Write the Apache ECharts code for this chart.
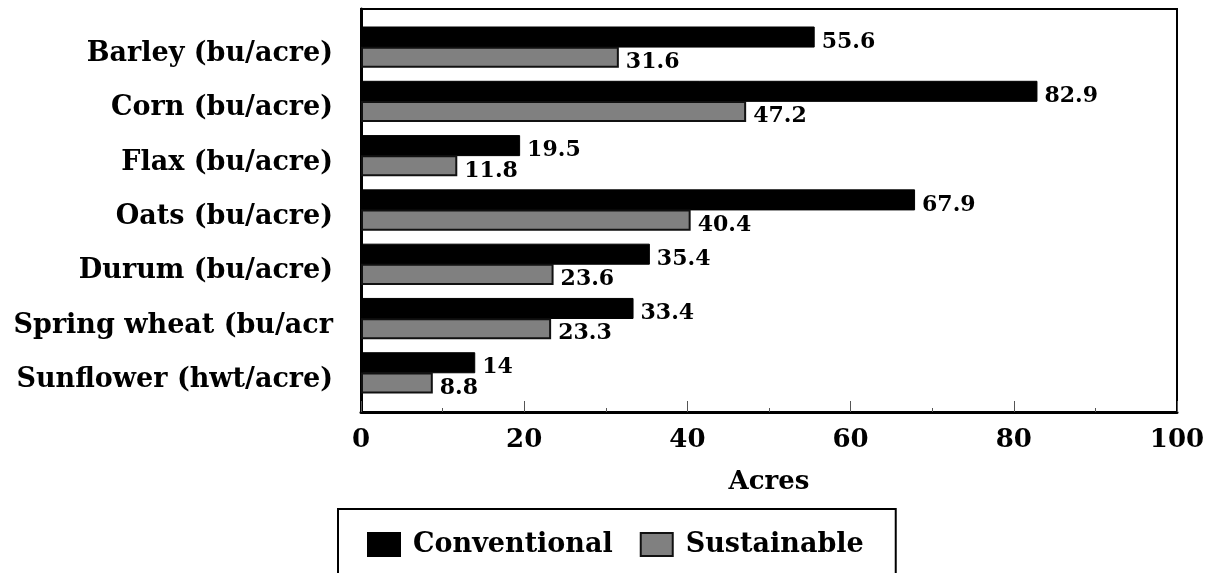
<!DOCTYPE html>
<html>
<head>
<meta charset="utf-8">
<script src="https://cdn.jsdelivr.net/npm/echarts@6/dist/echarts.min.js"></script>
<style>
  html, body { margin: 0; padding: 0; background: #fff; }
  #chart { width: 1213px; height: 573px; }
</style>
</head>
<body>
<div id="chart"></div>
<script>
// Crop yields, conventional vs sustainable farming
const categories = [
  'Barley (bu/acre)',
  'Corn (bu/acre)',
  'Flax (bu/acre)',
  'Oats (bu/acre)',
  'Durum (bu/acre)',
  'Spring wheat (bu/acr',
  'Sunflower (hwt/acre)'
];
const conventional = [55.6, 82.9, 19.5, 67.9, 35.4, 33.4, 14];
const sustainable = [31.6, 47.2, 11.8, 40.4, 23.6, 23.3, 8.8];
const axisMin = 0;
const axisMax = 100;
const axisStep = 20;

const FONT = 'DejaVu Serif';

const chart = echarts.init(document.getElementById('chart'), null, { renderer: 'canvas' });

const valueLabel = {
  show: true,
  position: 'right',
  distance: 7,
  offset: [0, 5],
  fontFamily: FONT,
  fontWeight: 'bold',
  fontSize: 22,
  color: '#000'
};

chart.setOption({
  animation: false,
  backgroundColor: '#fff',
  legend: {
    left: 338,
    top: 509,
    padding: [22, 32, 40, 29],
    borderColor: '#000',
    borderWidth: 2,
    itemWidth: 32,
    itemHeight: 23,
    itemGap: 27,
    icon: 'rect',
    textStyle: { fontFamily: FONT, fontWeight: 'bold', fontSize: 27, color: '#000', padding: [2, 0, 0, 8] },
    data: ['Conventional', 'Sustainable']
  },
  grid: [
    // frame and value axis
    { left: 361, right: 36, top: 9, bottom: 161, show: true, borderColor: '#000', borderWidth: 2, containLabel: false },
    // bar area, inset from the frame at top and bottom
    { left: 361, right: 36, top: 20, bottom: 173, containLabel: false }
  ],
  xAxis: [
    {
      gridIndex: 0,
      type: 'value',
      min: axisMin,
      max: axisMax,
      interval: axisStep,
      name: 'Acres',
      nameLocation: 'middle',
      nameGap: 57,
      nameTextStyle: { fontFamily: FONT, fontWeight: 'bold', fontSize: 26, color: '#000' },
      axisLine: { show: true, lineStyle: { color: '#000', width: 3 } },
      axisTick: { show: true, inside: true, length: 11, lineStyle: { color: '#555', width: 1 } },
      minorTick: { show: true, splitNumber: 2, length: 4, lineStyle: { color: '#555', width: 1 } },
      splitLine: { show: false },
      axisLabel: { margin: 15, fontFamily: FONT, fontWeight: 'bold', fontSize: 26, color: '#000' }
    },
    {
      gridIndex: 1,
      type: 'value',
      min: axisMin,
      max: axisMax,
      show: false
    }
  ],
  yAxis: [
    {
      gridIndex: 0,
      type: 'category',
      inverse: true,
      data: categories,
      axisLine: { show: true, lineStyle: { color: '#000', width: 3 } },
      axisTick: { show: false },
      axisLabel: { show: false }
    },
    {
      gridIndex: 1,
      type: 'category',
      inverse: true,
      data: categories,
      axisLine: { show: false },
      axisTick: { show: false },
      axisLabel: {
        margin: 28,
        formatter: (v) => '{c|' + v + '}',
        rich: {
          c: {
            padding: [14, 0, 0, 0],
            fontFamily: FONT,
            fontWeight: 'bold',
            fontSize: 27,
            color: '#000'
          }
        }
      }
    }
  ],
  series: [
    {
      name: 'Conventional',
      type: 'bar',
      xAxisIndex: 1,
      yAxisIndex: 1,
      data: conventional,
      barGap: '-4%',
      barCategoryGap: '24%',
      itemStyle: { color: '#000', borderColor: '#000', borderWidth: 1 },
      label: valueLabel
    },
    {
      name: 'Sustainable',
      type: 'bar',
      xAxisIndex: 1,
      yAxisIndex: 1,
      data: sustainable,
      itemStyle: { color: '#808080', borderColor: '#111', borderWidth: 2 },
      label: valueLabel
    }
  ]
});
</script>
</body>
</html>
